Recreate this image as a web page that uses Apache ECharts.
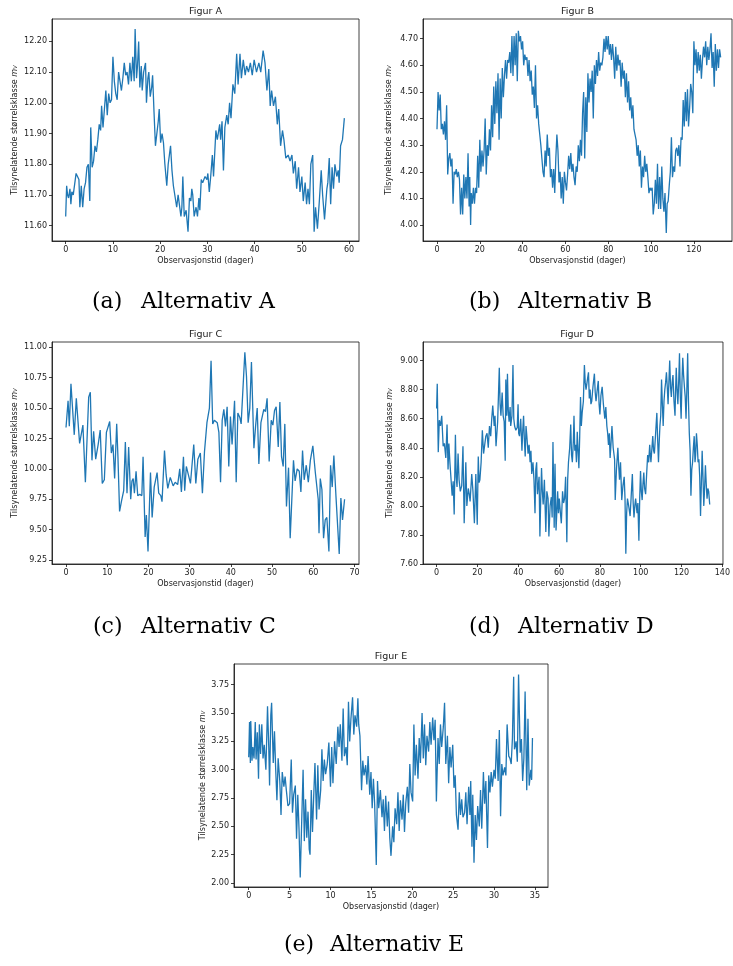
<!DOCTYPE html>
<html>
<head>
<meta charset="utf-8">
<script src="https://cdn.jsdelivr.net/npm/echarts@6/dist/echarts.min.js"></script>
<style>
html,body{margin:0;padding:0;background:#fff;}
#c{width:733px;height:966px;}
</style>
</head>
<body>
<div id="c"></div>
<script>
// ---------- DATA (days, magnitude) ----------
const figA = [[0,11.63],[0.2,11.73],[0.4,11.70],[0.6,11.69],[0.9,11.72],[1.1,11.67],[1.3,11.71],[1.6,11.70],[1.9,11.70],[2.2,11.77],[2.5,11.76],[2.8,11.75],[3.0,11.66],[3.3,11.73],[3.6,11.66],[3.9,11.72],[4.2,11.74],[4.5,11.79],[4.8,11.80],[5.1,11.68],[5.3,11.92],[5.6,11.79],[5.9,11.81],[6.2,11.86],[6.5,11.84],[6.8,11.88],[7.1,11.93],[7.4,11.91],[7.6,11.99],[7.9,11.92],[8.2,11.98],[8.5,12.04],[8.8,11.96],[9.1,12.03],[9.4,12.00],[9.7,12.01],[10.0,12.15],[10.3,12.07],[10.6,12.03],[10.9,12.01],[11.2,12.10],[11.5,12.10],[11.8,12.04],[12.1,12.08],[12.4,12.13],[12.7,12.09],[13.0,12.10],[13.3,12.06],[13.6,12.13],[13.9,12.07],[14.2,12.15],[14.5,12.07],[14.7,12.24],[15.0,12.08],[15.2,12.12],[15.45,12.20],[15.7,12.05],[16.0,12.12],[16.2,12.04],[16.5,12.10],[16.9,12.13],[17.1,12.00],[17.4,12.08],[17.6,12.10],[17.9,12.02],[18.2,12.05],[18.4,12.09],[18.7,11.97],[19.0,11.86],[19.3,11.86],[19.6,11.94],[19.8,11.98],[20.1,11.87],[20.4,11.90],[20.7,11.87],[21.0,11.80],[21.4,11.73],[21.7,11.80],[22.2,11.86],[22.5,11.78],[22.8,11.73],[23.1,11.73],[23.5,11.66],[23.8,11.70],[24.2,11.70],[24.4,11.63],[24.6,11.66],[24.8,11.76],[25.1,11.63],[25.5,11.65],[25.9,11.58],[26.2,11.69],[26.5,11.68],[26.7,11.72],[26.9,11.70],[27.2,11.63],[27.6,11.66],[27.9,11.63],[28.2,11.69],[28.4,11.65],[28.7,11.75],[29.0,11.74],[29.5,11.76],[29.9,11.75],[30.1,11.77],[30.4,11.71],[30.7,11.76],[31.05,11.83],[31.3,11.76],[31.8,11.91],[32.1,11.88],[32.6,11.93],[32.8,11.88],[33.1,11.94],[33.4,11.78],[33.7,11.92],[34.1,11.96],[34.4,11.93],[34.7,12.00],[35.0,11.95],[35.4,12.06],[35.8,12.03],[36.2,12.16],[36.5,12.06],[36.9,12.16],[37.2,12.08],[37.6,12.14],[38.0,12.09],[38.3,12.12],[38.7,12.10],[39.1,12.13],[39.5,12.09],[39.9,12.14],[40.4,12.10],[40.9,12.13],[41.3,12.10],[41.8,12.17],[42.2,12.13],[42.6,12.04],[43.0,12.11],[43.3,11.99],[43.6,12.04],[44.0,11.99],[44.4,12.02],[44.8,11.93],[45.1,11.98],[45.5,11.86],[45.9,11.91],[46.2,11.88],[46.6,11.82],[47.1,11.83],[47.5,11.81],[47.9,11.83],[48.2,11.77],[48.6,11.81],[48.9,11.72],[49.3,11.79],[49.6,11.71],[50.0,11.76],[50.3,11.68],[50.7,11.74],[51.0,11.67],[51.3,11.72],[51.6,11.67],[51.9,11.80],[52.3,11.83],[52.6,11.58],[52.9,11.66],[53.3,11.59],[53.7,11.68],[54.1,11.78],[54.4,11.70],[54.8,11.62],[55.3,11.72],[55.5,11.74],[55.8,11.82],[56.1,11.67],[56.4,11.79],[56.7,11.72],[57.0,11.80],[57.4,11.76],[57.7,11.78],[57.9,11.74],[58.2,11.86],[58.6,11.88],[58.8,11.88],[59.0,11.95]];

const figB = [[0,4.36],[0.5,4.50],[1,4.43],[1.5,4.49],[2,4.36],[2.5,4.38],[3,4.34],[3.5,4.39],[4,4.32],[4.5,4.45],[5,4.19],[5.5,4.25],[6,4.27],[6.5,4.22],[7,4.25],[7.5,4.08],[8,4.20],[8.5,4.19],[9,4.21],[9.5,4.18],[10,4.20],[10.5,4.17],[11,4.04],[11.5,4.14],[12,4.04],[12.5,4.19],[13,4.10],[13.5,4.18],[14,4.10],[14.5,4.27],[15,4.07],[15.3,4.18],[15.7,4.00],[16,4.12],[16.5,4.08],[17,4.14],[17.5,4.08],[18,4.14],[18.5,4.12],[19,4.26],[19.5,4.14],[20,4.32],[20.5,4.20],[21,4.28],[21.5,4.22],[22,4.28],[22.5,4.40],[23,4.19],[23.5,4.30],[24,4.26],[24.5,4.36],[25,4.28],[25.5,4.45],[26,4.33],[26.5,4.52],[27,4.38],[27.5,4.54],[28,4.42],[28.5,4.57],[29,4.32],[29.5,4.55],[30,4.40],[30.5,4.59],[31,4.48],[31.5,4.56],[32,4.62],[32.5,4.55],[33,4.62],[33.5,4.61],[34,4.65],[34.5,4.57],[35,4.71],[35.5,4.56],[36,4.71],[36.5,4.60],[37,4.72],[37.5,4.54],[38,4.73],[38.5,4.69],[39,4.71],[39.5,4.66],[40,4.69],[40.5,4.60],[41,4.64],[41.5,4.62],[42,4.63],[42.5,4.56],[43,4.62],[43.5,4.54],[44,4.58],[44.5,4.49],[45,4.52],[45.5,4.44],[46,4.60],[46.5,4.40],[47,4.45],[47.5,4.38],[48,4.34],[48.5,4.30],[49,4.25],[49.5,4.20],[50,4.18],[50.5,4.28],[51,4.22],[51.5,4.34],[52,4.26],[52.5,4.29],[53,4.18],[53.5,4.21],[54,4.14],[54.5,4.21],[55,4.12],[55.5,4.25],[56,4.34],[56.5,4.28],[57,4.16],[57.5,4.20],[58,4.10],[58.5,4.18],[59,4.08],[59.5,4.20],[60,4.16],[60.5,4.13],[61,4.19],[61.5,4.26],[62,4.21],[62.5,4.27],[63,4.20],[63.5,4.23],[64,4.18],[64.5,4.15],[65,4.22],[65.5,4.20],[66,4.30],[66.5,4.24],[67,4.32],[67.5,4.26],[68,4.42],[68.5,4.50],[69,4.25],[69.5,4.48],[70,4.35],[70.5,4.57],[71,4.46],[71.5,4.55],[72,4.50],[72.5,4.58],[73,4.40],[73.5,4.60],[74,4.53],[74.5,4.62],[75,4.56],[75.5,4.65],[76,4.58],[76.5,4.61],[77,4.60],[77.5,4.63],[78,4.70],[78.5,4.65],[79,4.71],[79.5,4.66],[80,4.71],[80.5,4.64],[81,4.68],[81.5,4.62],[82,4.68],[82.5,4.63],[83,4.55],[83.5,4.67],[84,4.58],[84.5,4.64],[85,4.60],[85.5,4.62],[86,4.52],[86.5,4.61],[87,4.55],[87.5,4.58],[88,4.48],[88.5,4.57],[89,4.46],[89.5,4.54],[90,4.43],[90.5,4.48],[91,4.40],[91.5,4.45],[92,4.36],[92.5,4.34],[93,4.32],[93.5,4.26],[94,4.30],[94.5,4.22],[95,4.28],[95.5,4.14],[96,4.22],[96.5,4.18],[97,4.26],[97.5,4.20],[98,4.23],[98.5,4.18],[99,4.12],[99.5,4.14],[100,4.13],[100.5,4.14],[101,4.04],[101.5,4.08],[102,4.17],[102.5,4.08],[103,4.23],[103.5,4.06],[104,4.18],[104.5,4.06],[105,4.22],[105.5,4.10],[106,4.05],[106.5,4.12],[107.1,3.97],[107.5,4.08],[108,4.09],[108.5,4.15],[109,4.20],[109.5,4.33],[110,4.18],[110.5,4.22],[111,4.20],[111.5,4.28],[112,4.29],[112.5,4.26],[113,4.30],[113.5,4.22],[114,4.33],[114.5,4.32],[115,4.47],[115.5,4.37],[116,4.50],[116.5,4.39],[117,4.51],[117.5,4.37],[118,4.44],[118.5,4.53],[119,4.50],[119.5,4.42],[120,4.69],[120.5,4.60],[121,4.66],[121.5,4.57],[122,4.65],[122.5,4.58],[123,4.64],[123.5,4.55],[124,4.62],[124.5,4.67],[125,4.63],[125.5,4.69],[126,4.60],[126.5,4.67],[127,4.62],[127.5,4.66],[128,4.72],[128.5,4.59],[129,4.65],[129.5,4.52],[130,4.68],[130.5,4.58],[131,4.66],[131.5,4.59],[132,4.66],[132.5,4.63]];

const figC = [[0,10.34],[0.5,10.56],[0.8,10.35],[1.2,10.70],[2,10.28],[2.5,10.58],[3.3,10.21],[4.1,10.36],[4.7,9.89],[5.5,10.59],[5.9,10.63],[6.3,10.07],[6.7,10.31],[7.2,10.08],[7.8,10.20],[8.3,10.32],[8.8,9.88],[9.3,9.91],[9.8,10.30],[10.2,10.31],[10.6,10.39],[11,10.13],[11.4,10.20],[11.8,9.92],[12.3,10.37],[12.6,10.10],[13,9.65],[13.5,9.74],[14,9.82],[14.4,10.22],[14.8,9.80],[15.2,10.18],[15.7,9.75],[16,9.90],[16.3,9.92],[16.6,9.80],[17,9.98],[17.4,9.78],[17.9,9.79],[18.4,9.78],[18.7,10.10],[19.2,9.44],[19.5,9.62],[19.9,9.32],[20.5,9.97],[20.9,9.60],[21.4,9.85],[22.1,9.97],[22.5,9.80],[23,9.78],[23.3,9.73],[23.9,10.15],[24.3,9.95],[24.7,9.84],[25.3,9.93],[26,9.86],[26.5,9.89],[27.1,9.87],[27.6,10.00],[28,9.81],[28.5,10.10],[28.8,9.82],[29.2,10.02],[29.7,9.95],[30.2,9.88],[31,10.20],[31.5,9.88],[32,10.08],[32.6,10.13],[33.1,9.80],[33.6,10.14],[34.2,10.38],[34.8,10.50],[35.2,10.89],[35.6,10.37],[36,10.40],[36.7,10.38],[37.1,10.30],[37.5,9.89],[37.9,10.40],[38.3,10.49],[38.7,10.35],[39.1,10.51],[39.5,10.02],[39.9,10.43],[40.3,10.20],[40.9,10.56],[41.3,9.89],[41.7,10.46],[42.2,10.42],[42.5,10.37],[43.4,10.96],[43.8,10.76],[44.2,10.38],[44.6,10.50],[45,10.88],[45.6,10.17],[46,10.35],[46.4,10.50],[46.8,10.04],[47.3,10.38],[48,10.49],[48.4,10.47],[48.8,10.58],[49.3,10.06],[49.8,10.40],[50.2,10.36],[50.6,10.48],[51,10.51],[51.5,10.18],[51.9,10.55],[52.3,10.10],[52.7,10.02],[53.1,10.37],[53.5,9.69],[54,10.01],[54.4,9.43],[55.2,10.07],[55.6,9.90],[56.1,10.00],[56.6,9.98],[57,9.81],[57.4,10.15],[57.8,9.91],[58.3,10.03],[58.8,9.89],[59.3,10.07],[59.9,10.19],[60.5,9.97],[61.2,9.75],[61.4,9.47],[61.7,9.92],[62.1,9.83],[62.5,9.43],[62.9,9.58],[63.3,9.60],[63.8,9.32],[64.2,10.03],[64.6,9.85],[65,10.11],[65.5,9.78],[65.9,9.77],[66.3,9.30],[66.7,9.76],[67.1,9.58],[67.6,9.75]];

const figD = [[0,8.67],[0.3,8.84],[0.8,8.37],[1.3,8.59],[1.9,8.55],[2.5,8.62],[3.2,8.41],[3.8,8.43],[4.5,8.33],[5.1,8.56],[5.6,8.25],[6.0,8.43],[6.5,8.30],[7.0,8.29],[7.6,8.07],[8.1,8.17],[8.6,7.94],[9.2,8.49],[9.6,8.20],[10.0,8.13],[10.5,8.36],[11.0,8.18],[11.6,8.10],[12.3,8.14],[12.9,8.41],[13.5,7.88],[14.3,8.30],[14.8,8.00],[15.5,8.12],[16.0,8.08],[16.4,8.03],[17.2,8.22],[17.8,8.10],[18.5,7.88],[19.2,8.22],[19.9,7.87],[20.4,8.34],[20.8,8.16],[21.2,8.18],[21.8,8.30],[22.4,8.52],[23.0,8.36],[23.5,8.35],[24.1,8.48],[24.7,8.50],[25.3,8.40],[25.9,8.55],[26.5,8.48],[27.0,8.60],[27.5,8.69],[28.2,8.55],[28.6,8.62],[29.1,8.41],[29.9,8.58],[30.7,8.95],[31.1,8.70],[31.5,8.62],[32.1,8.78],[32.6,8.62],[33.1,8.58],[33.6,8.31],[33.9,8.87],[34.4,8.62],[34.7,8.91],[35.1,8.66],[35.5,8.58],[36.0,8.68],[36.3,8.55],[36.9,8.62],[37.4,8.97],[37.8,8.60],[38.2,8.55],[38.8,8.52],[39.5,8.54],[39.9,8.70],[40.2,8.50],[40.6,8.48],[41.2,8.60],[41.8,8.38],[42.2,8.52],[42.6,8.62],[43.0,8.45],[43.4,8.34],[43.8,8.55],[44.2,8.48],[44.8,8.36],[45.3,8.42],[45.8,8.30],[46.2,8.38],[46.6,8.22],[47.2,8.30],[47.7,8.18],[48.2,7.95],[48.6,8.25],[49.0,8.30],[49.4,8.08],[49.8,8.14],[50.2,8.20],[50.6,7.79],[51.0,8.05],[51.4,8.26],[51.8,8.10],[52.2,8.01],[52.8,8.18],[53.5,7.82],[54.0,8.10],[54.6,8.05],[55.0,7.79],[55.6,8.00],[56.2,8.06],[56.6,7.92],[57.0,8.44],[57.6,7.85],[58.0,8.29],[58.5,7.83],[58.9,7.96],[59.3,8.10],[59.7,7.95],[60.1,8.05],[60.6,7.96],[61.1,7.88],[61.7,8.10],[62.2,8.02],[62.7,8.05],[63.2,8.20],[63.8,7.75],[64.2,8.18],[64.6,8.30],[65.2,8.40],[65.7,8.56],[66.1,8.35],[66.5,8.30],[67.0,8.45],[67.3,8.62],[67.7,8.38],[68.1,8.42],[68.5,8.30],[68.9,8.51],[69.3,8.38],[69.7,8.26],[70.1,8.48],[70.5,8.75],[70.9,8.55],[71.3,8.64],[71.9,8.72],[72.4,8.97],[72.8,8.85],[73.2,8.80],[73.8,8.86],[74.4,8.92],[74.8,8.74],[75.2,8.80],[75.6,8.70],[76.0,8.72],[76.6,8.82],[77.3,8.91],[77.7,8.78],[78.1,8.72],[78.7,8.80],[79.2,8.86],[79.6,8.70],[80.0,8.63],[80.5,8.76],[81.1,8.82],[81.7,8.70],[82.4,8.60],[82.9,8.68],[83.4,8.55],[83.8,8.50],[84.2,8.42],[84.6,8.50],[85.0,8.33],[85.4,8.42],[85.9,8.55],[86.5,8.40],[87.2,8.32],[87.5,8.04],[88.1,8.25],[88.8,8.40],[89.2,8.28],[89.6,8.18],[90.1,8.30],[90.7,8.04],[91.3,8.14],[91.9,8.20],[92.3,8.05],[92.7,7.67],[93.1,7.95],[93.5,8.05],[94.1,8.00],[94.8,7.93],[95.3,8.06],[95.9,8.22],[96.3,8.02],[96.7,7.92],[97.1,8.00],[97.5,8.05],[98.2,7.95],[98.6,8.02],[99.1,7.76],[99.5,8.05],[99.9,8.24],[100.3,8.10],[100.7,8.04],[101.1,8.15],[101.5,8.23],[101.9,8.12],[102.4,8.08],[102.9,8.22],[103.4,8.35],[103.9,8.30],[104.4,8.42],[104.7,8.35],[105.0,8.30],[105.5,8.40],[105.9,8.48],[106.3,8.38],[106.7,8.36],[107.3,8.50],[107.9,8.64],[108.3,8.45],[108.7,8.30],[109.0,8.42],[109.4,8.55],[109.8,8.62],[110.2,8.87],[110.6,8.70],[111.0,8.55],[111.4,8.72],[111.8,8.80],[112.2,8.85],[112.6,8.92],[113.0,8.82],[113.4,8.70],[113.8,8.85],[114.2,9.00],[114.6,8.82],[115.0,8.75],[115.4,8.85],[115.8,8.90],[116.3,8.72],[116.8,8.62],[117.1,8.80],[117.4,8.95],[117.8,8.80],[118.2,8.70],[118.6,8.85],[119.0,9.05],[119.4,8.75],[119.8,8.60],[120.2,8.85],[120.6,9.02],[121.0,8.90],[121.4,8.82],[121.8,8.75],[122.2,8.60],[122.6,8.80],[123.0,9.05],[123.4,8.72],[123.8,8.50],[124.2,8.38],[124.6,8.07],[125.0,8.25],[125.4,8.30],[125.8,8.40],[126.2,8.48],[126.6,8.30],[126.9,8.35],[127.3,8.50],[127.7,8.42],[128.1,8.30],[128.5,8.32],[128.9,8.20],[129.3,7.93],[129.7,8.15],[130.1,8.38],[130.5,8.20],[130.9,8.00],[131.3,8.12],[131.7,8.28],[132.1,8.15],[132.5,8.05],[132.9,8.12],[133.3,8.10],[133.8,8.01]];

const figE = [[0,3.11],[0.1,3.42],[0.2,3.06],[0.25,3.43],[0.4,3.08],[0.5,3.20],[0.65,3.10],[0.8,3.42],[0.9,3.09],[1.05,3.33],[1.2,2.92],[1.3,3.40],[1.45,3.14],[1.6,3.40],[1.75,3.10],[1.9,3.22],[2.1,3.00],[2.3,3.56],[2.45,3.20],[2.55,2.86],[2.7,3.48],[2.8,3.59],[3.0,3.06],[3.15,3.34],[3.3,3.00],[3.45,2.73],[3.6,3.10],[3.8,2.90],[3.95,2.60],[4.1,2.98],[4.3,2.85],[4.45,2.94],[4.6,2.82],[4.8,2.68],[5.0,2.70],[5.2,3.09],[5.35,2.62],[5.5,2.78],[5.7,2.86],[5.85,2.39],[6.0,2.78],[6.15,2.48],[6.3,2.05],[6.5,2.60],[6.65,3.00],[6.8,2.37],[6.95,2.74],[7.1,2.40],[7.25,2.63],[7.4,2.30],[7.5,2.25],[7.65,2.82],[7.8,2.45],[7.95,2.77],[8.1,3.06],[8.3,2.56],[8.45,3.04],[8.6,2.65],[8.8,2.82],[8.95,3.18],[9.1,2.90],[9.25,3.09],[9.4,2.96],[9.6,3.05],[9.8,3.24],[10.0,2.85],[10.15,3.20],[10.3,2.88],[10.5,3.25],[10.7,3.05],[10.9,3.38],[11.05,3.20],[11.2,3.40],[11.4,3.08],[11.55,3.54],[11.7,3.12],[11.9,3.20],[12.05,3.04],[12.2,3.60],[12.35,3.25],[12.5,3.45],[12.7,3.64],[12.85,3.31],[13.0,3.48],[13.2,3.38],[13.35,3.63],[13.45,3.40],[13.6,3.30],[13.8,2.82],[13.95,3.08],[14.1,2.95],[14.3,3.04],[14.45,2.87],[14.6,3.12],[14.8,2.78],[14.95,2.98],[15.1,2.66],[15.25,2.92],[15.4,2.70],[15.6,2.16],[15.75,2.90],[15.9,2.66],[16.1,2.82],[16.3,2.58],[16.45,2.74],[16.6,2.46],[16.75,2.77],[16.95,2.50],[17.1,2.72],[17.25,2.40],[17.4,2.24],[17.6,2.50],[17.75,2.36],[17.9,2.66],[18.1,2.52],[18.25,2.80],[18.4,2.46],[18.55,2.73],[18.75,2.56],[18.9,2.78],[19.05,2.45],[19.2,2.70],[19.4,2.85],[19.55,2.62],[19.7,3.05],[19.85,2.80],[20.05,2.72],[20.2,3.40],[20.35,2.95],[20.5,3.22],[20.7,2.92],[20.85,3.28],[21.0,3.06],[21.2,3.50],[21.35,3.10],[21.5,3.40],[21.65,3.04],[21.8,3.30],[22.0,3.16],[22.15,3.42],[22.3,3.22],[22.5,3.46],[22.65,3.26],[22.8,3.44],[22.95,2.72],[23.15,3.28],[23.3,3.05],[23.45,3.40],[23.6,3.20],[23.8,3.38],[23.95,3.59],[24.1,3.05],[24.3,3.30],[24.45,2.88],[24.6,3.20],[24.75,3.02],[24.95,3.22],[25.1,2.84],[25.25,2.95],[25.4,2.60],[25.6,2.47],[25.75,2.80],[25.9,2.60],[26.05,2.74],[26.2,2.58],[26.4,2.62],[26.55,2.80],[26.7,2.52],[26.9,2.85],[27.05,2.60],[27.15,2.90],[27.3,2.32],[27.4,2.78],[27.55,2.18],[27.7,2.60],[27.85,2.38],[28.0,2.68],[28.2,2.50],[28.35,2.82],[28.5,2.48],[28.7,2.98],[28.85,2.70],[29.0,2.90],[29.2,2.31],[29.35,2.95],[29.5,2.80],[29.65,2.98],[29.8,2.85],[30.0,3.00],[30.15,2.92],[30.3,3.27],[30.5,2.90],[30.65,3.35],[30.8,2.59],[30.95,3.05],[31.1,2.95],[31.3,3.02],[31.45,2.95],[31.6,3.40],[31.8,3.12],[31.95,3.10],[32.1,3.05],[32.25,3.28],[32.4,3.82],[32.5,3.18],[32.7,3.25],[32.85,3.07],[33.0,3.84],[33.2,3.15],[33.35,3.27],[33.5,2.90],[33.65,3.10],[33.8,3.69],[34.0,2.82],[34.15,3.45],[34.3,2.86],[34.5,3.00],[34.6,2.91],[34.7,3.28]];

// tick values
const ticksAX = [0,10,20,30,40,50,60];
const ticksAY = [11.6,11.7,11.8,11.9,12.0,12.1,12.2];
const ticksBX = [0,20,40,60,80,100,120];
const ticksBY = [4.0,4.1,4.2,4.3,4.4,4.5,4.6,4.7];
const ticksCX = [0,10,20,30,40,50,60,70];
const ticksCY = [9.25,9.5,9.75,10.0,10.25,10.5,10.75,11.0];
const ticksDX = [0,20,40,60,80,100,120,140];
const ticksDY = [7.6,7.8,8.0,8.2,8.4,8.6,8.8,9.0];
const ticksEX = [0,5,10,15,20,25,30,35];
const ticksEY = [2.0,2.25,2.5,2.75,3.0,3.25,3.5,3.75];

const titles = ['Figur A','Figur B','Figur C','Figur D','Figur E'];
const captionTags = ['(a)','(b)','(c)','(d)','(e)'];
const captionTexts = ['Alternativ A','Alternativ B','Alternativ C','Alternativ D','Alternativ E'];

// ---------- LAYOUT ----------
const panels = [
  {data: figA, tx: ticksAX, ty: ticksAY, grid:{left:52, top:19, width:307, height:222}, x:[-2.9,62.1], y:[11.55,12.273], yGap:33, cap:{tag:92, txt:141, y:302}},
  {data: figB, tx: ticksBX, ty: ticksBY, grid:{left:423, top:19, width:309, height:222}, x:[-6.54,137.8], y:[3.94,4.774], yGap:30, cap:{tag:469, txt:518, y:302}},
  {data: figC, tx: ticksCX, ty: ticksCY, grid:{left:52, top:342, width:307, height:222}, x:[-3.4,71.1], y:[9.217,11.044], yGap:33, cap:{tag:93, txt:141, y:627}},
  {data: figD, tx: ticksDX, ty: ticksDY, grid:{left:423, top:342, width:308, height:222}, x:[-6.68,140.3], y:[7.60,9.128], yGap:29, cap:{tag:469, txt:518, y:627}},
  {data: figE, tx: ticksEX, ty: ticksEY, grid:{left:234, top:664, width:314, height:223}, x:[-1.8,36.6], y:[1.965,3.933], yGap:27, cap:{tag:284, txt:330, y:945}}
];

const TXT = '#222';
const FONT = 'DejaVu Sans';
const grids = [], xAxes = [], yAxes = [], series = [], graphics = [];

panels.forEach((p, i) => {
  grids.push(Object.assign({show:true, borderColor:'#111', borderWidth:0.8, backgroundColor:'transparent'}, p.grid));
  xAxes.push({
    type:'value', gridIndex:i, min:p.x[0], max:p.x[1],
    name:'Observasjonstid (dager)', nameLocation:'middle', nameGap:16,
    nameTextStyle:{fontFamily:FONT, fontSize:8, color:TXT},
    axisLine:{show:true, onZero:false, lineStyle:{color:'#111', width:0.8}},
    axisTick:{show:true, length:3, customValues:p.tx, lineStyle:{color:'#111', width:0.8}},
    axisLabel:{show:true, customValues:p.tx, margin:5, fontFamily:FONT, fontSize:8, color:TXT,
      formatter: v => String(Math.round(v))},
    splitLine:{show:false}
  });
  yAxes.push({
    type:'value', gridIndex:i, min:p.y[0], max:p.y[1],
    name:'{t|Tilsynelatende størrelsklasse }{m|m}{v|V}', nameLocation:'middle', nameGap:p.yGap,
    nameTextStyle:{fontFamily:FONT, fontSize:8, color:TXT,
      rich:{t:{fontFamily:FONT, fontSize:8, color:TXT},
            m:{fontFamily:FONT, fontSize:8, fontStyle:'italic', color:TXT},
            v:{fontFamily:FONT, fontSize:5.5, fontStyle:'italic', color:TXT, padding:[3,0,0,0]}}},
    axisLine:{show:true, onZero:false, lineStyle:{color:'#111', width:0.8}},
    axisTick:{show:true, length:3, customValues:p.ty, lineStyle:{color:'#111', width:0.8}},
    axisLabel:{show:true, customValues:p.ty, margin:5, fontFamily:FONT, fontSize:8, color:TXT,
      formatter: v => v.toFixed(2)},
    splitLine:{show:false}
  });
  series.push({
    type:'line', xAxisIndex:i, yAxisIndex:i, data:p.data,
    showSymbol:false, symbol:'none', animation:false, silent:true,
    lineStyle:{color:'#1f77b4', width:1.3}, clip:true
  });
  const cx = p.grid.left + p.grid.width/2;
  graphics.push({type:'text', x:cx, y:p.grid.top-7,
    style:{text:titles[i], fontFamily:FONT, fontSize:9.5, fill:TXT, textAlign:'center', textVerticalAlign:'middle'}});
  graphics.push({type:'text', x:p.cap.tag, y:p.cap.y,
    style:{text:captionTags[i], fontFamily:'DejaVu Serif', fontSize:22, fill:'#000', textAlign:'left', textVerticalAlign:'middle'}});
  graphics.push({type:'text', x:p.cap.txt, y:p.cap.y,
    style:{text:captionTexts[i], fontFamily:'DejaVu Serif', fontSize:22, fill:'#000', textAlign:'left', textVerticalAlign:'middle'}});
});

const chart = echarts.init(document.getElementById('c'), null, {renderer:'canvas'});
chart.setOption({
  backgroundColor:'#fff',
  animation:false,
  grid:grids, xAxis:xAxes, yAxis:yAxes, series:series,
  graphic:{elements:graphics}
});
</script>
</body>
</html>
